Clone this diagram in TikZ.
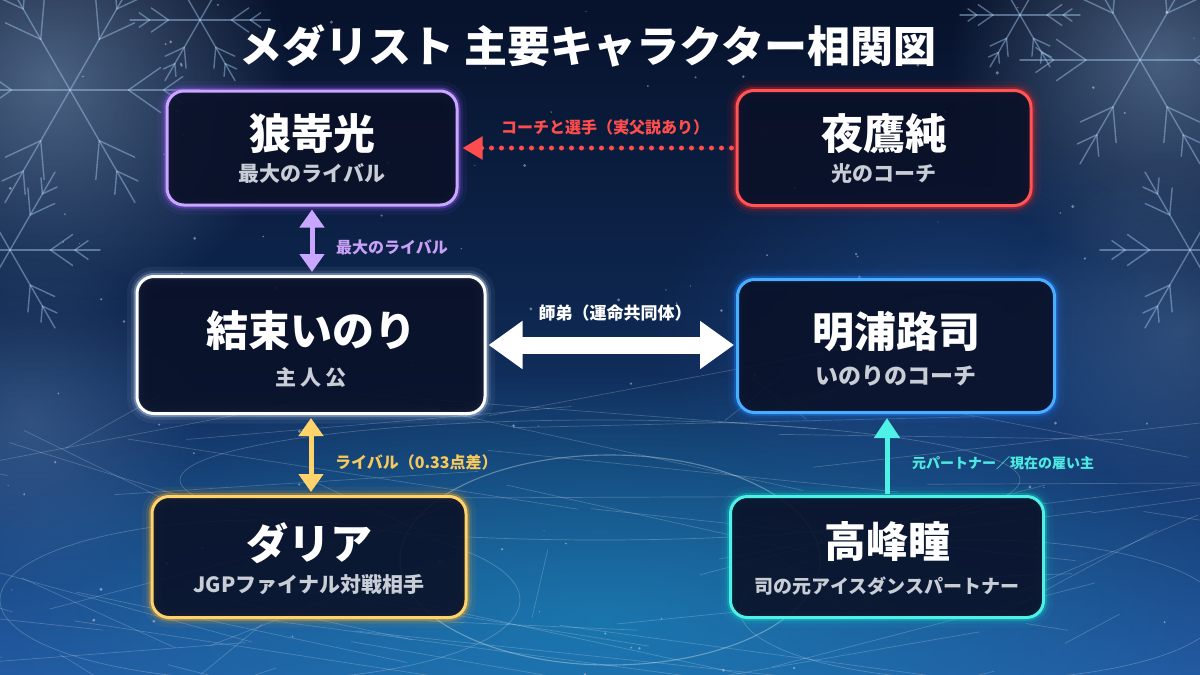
\documentclass[tikz,border=0pt]{standalone}
\usepackage{fontspec}
\setmainfont{Noto Sans CJK JP}
\usetikzlibrary{arrows.meta,fadings,calc}
\definecolor{bgtop}{HTML}{07122B}
\definecolor{bgmid}{HTML}{0E2852}
\definecolor{bgbot}{HTML}{2358A0}
\definecolor{boxfill}{HTML}{0A1128}
\definecolor{subgray}{HTML}{C8CDD6}
\definecolor{pcore}{HTML}{C9A6FF}\definecolor{pglow}{HTML}{9B5CFF}
\definecolor{rcore}{HTML}{FF5555}\definecolor{rglow}{HTML}{FF2222}
\definecolor{wcore}{HTML}{FFFFFF}\definecolor{wglow}{HTML}{CFE4FF}
\definecolor{bcore}{HTML}{4AAEFF}\definecolor{bglow}{HTML}{1E7FFF}
\definecolor{gcore}{HTML}{FFD36B}\definecolor{gglow}{HTML}{FFB020}
\definecolor{tcore}{HTML}{4FF0E6}\definecolor{tglow}{HTML}{10D0C8}
\definecolor{plab}{HTML}{C9A0F8}
\definecolor{rlab}{HTML}{FF4D4D}
\definecolor{glab}{HTML}{F7C85E}
\definecolor{tlab}{HTML}{4DE8E0}
\definecolor{frost}{HTML}{A8CCF2}
\tikzfading[name=softglow, inner color=transparent!0, outer color=transparent!100]
\newcommand\icecrystal[3]{%
  \begin{scope}[shift={(#1,#2)}]
    \foreach \a in {0,60,...,300}{%
      \draw[crystal] (0,0) -- (\a:#3);
      \draw[crystal] (\a:{#3*0.45}) -- ++(\a+35:{#3*0.3});
      \draw[crystal] (\a:{#3*0.45}) -- ++(\a-35:{#3*0.3});
      \draw[crystal] (\a:{#3*0.72}) -- ++(\a+35:{#3*0.18});
      \draw[crystal] (\a:{#3*0.72}) -- ++(\a-35:{#3*0.18});
    }
  \end{scope}}
\tikzset{
  cbox/.style 2 args={draw=#1, line width=3pt, rounded corners=17pt,
    fill=boxfill, fill opacity=0.9, inner sep=0pt,
    preaction={draw=#2, line width=20pt, draw opacity=0.06, fill opacity=0},
    preaction={draw=#2, line width=12pt, draw opacity=0.12, fill opacity=0},
    preaction={draw=#2, line width=7pt, draw opacity=0.35, fill opacity=0}},
  pname/.style={text=white, font=\fontsize{42}{46}\selectfont\bfseries, inner sep=0pt},
  psub/.style={text=subgray, font=\fontsize{21}{24}\selectfont\bfseries, inner sep=0pt},
  rlabel/.style={font=\fontsize{16}{18}\selectfont\bfseries, inner sep=0pt},
  thinarrow/.style={line width=5pt, {Triangle[length=18pt,width=24pt]}-{Triangle[length=18pt,width=24pt]}, shorten <=3pt, shorten >=3pt},
  crystal/.style={draw=frost, line width=1.4pt, draw opacity=0.45, line cap=round},
  scratch/.style={draw=white, line width=0.7pt, draw opacity=0.2},
}
\begin{document}
\begin{tikzpicture}[x=1pt,y=-1pt]
\useasboundingbox (0,0) rectangle (1200,675);
% ---------- background ----------
\begin{scope}
\clip (0,0) rectangle (1200,675);
\shade[top color=bgtop, bottom color=bgbot, middle color=bgmid] (0,0) rectangle (1200,675);
\fill[bgbot!60!cyan, path fading=softglow, opacity=0.5] (600,620) ellipse (650 and 250);
\fill[bgbot, path fading=softglow, opacity=0.5] (950,330) ellipse (300 and 200);
\fill[frost, path fading=softglow, opacity=0.42] (50,80) circle (240);
\fill[frost, path fading=softglow, opacity=0.40] (1160,60) circle (210);
\fill[frost, path fading=softglow, opacity=0.2] (30,420) circle (170);
\fill[frost, path fading=softglow, opacity=0.2] (1180,330) circle (170);
\icecrystal{70}{90}{130}
\icecrystal{10}{250}{90}
\icecrystal{200}{20}{70}
\icecrystal{1140}{60}{120}
\icecrystal{1190}{250}{90}
\icecrystal{1020}{15}{60}
\pgfmathsetseed{7}
\foreach \i in {1,...,75}{%
  \pgfmathsetmacro\xa{rnd*1400-100}
  \pgfmathsetmacro\ya{400+rnd*290}
  \pgfmathsetmacro\xb{\xa+(rnd-0.5)*1000}
  \pgfmathsetmacro\yb{\ya+(rnd-0.5)*180}
  \draw[scratch] (\xa,\ya) -- (\xb,\yb);
}
\draw[scratch, draw opacity=0.32, line width=1.1pt] (610,560) ellipse (210 and 105);
\draw[scratch, draw opacity=0.22] (260,600) ellipse (260 and 80);
\draw[scratch, draw opacity=0.22] (980,610) ellipse (240 and 70);
\draw[scratch, draw opacity=0.22] (600,480) ellipse (420 and 60);
\foreach \i in {1,...,140}{%
  \pgfmathsetmacro\sx{rnd*1200}
  \pgfmathsetmacro\sy{rnd*675}
  \pgfmathsetmacro\sr{0.5+rnd*1.2}
  \fill[white, opacity=0.4] (\sx,\sy) circle (\sr);
}
\end{scope}
% ---------- title ----------
\node[text=white, font=\fontsize{43}{46}\selectfont\bfseries, inner sep=0pt] (title) at (588,46) {メダリスト 主要キャラクター相関図};
% ---------- boxes ----------
\node[cbox={pcore}{pglow}, minimum width=290pt, minimum height=114pt] (hikaru) at (312,148) {};
\node[cbox={rcore}{rglow}, minimum width=294pt, minimum height=115pt] (yoru) at (884,148) {};
\node[cbox={wcore}{wglow}, minimum width=348pt, minimum height=137pt] (inori) at (311,345) {};
\node[cbox={bcore}{bglow}, minimum width=317pt, minimum height=133pt] (tsukasa) at (896,346) {};
\node[cbox={gcore}{gglow}, minimum width=314pt, minimum height=121pt] (dalia) at (309,557) {};
\node[cbox={tcore}{tglow}, minimum width=313pt, minimum height=121pt] (hitomi) at (887,557) {};
% ---------- names ----------
\node[pname] (hikaruN) at (312,134) {狼嵜光};
\node[psub] (hikaruS) at (312,174) {最大のライバル};
\node[pname] (yoruN) at (884,134) {夜鷹純};
\node[psub] (yoruS) at (884,174) {光のコーチ};
\node[pname] (inoriN) at (311,331) {結束いのり};
\node[psub] (inoriS) at (311,378) {主\hspace{4pt}人\hspace{4pt}公};
\node[pname] (tsukasaN) at (896,332) {明浦路司};
\node[psub, font=\fontsize{23}{26}\selectfont\bfseries] (tsukasaS) at (896,376) {いのりのコーチ};
\node[pname] (daliaN) at (309,543) {ダリア};
\node[psub] (daliaS) at (309,585) {JGPファイナル対戦相手};
\node[pname] (hitomiN) at (887,542) {高峰瞳};
\node[psub, font=\fontsize{19}{22}\selectfont\bfseries] (hitomiS) at (887,586) {司の元アイスダンスパートナー};
% ---------- connectors ----------
\draw[thinarrow, draw=pcore, fill=pcore] (hikaru.south) -- (hikaru.south |- inori.north);
\draw[thinarrow, draw=gcore, fill=gcore] (inori.south) -- (inori.south |- dalia.north);
\draw[draw=white, fill=white, line width=17pt,
      {Triangle[length=34pt,width=46pt]}-{Triangle[length=34pt,width=46pt]},
      shorten <=2pt, shorten >=2pt]
      (inori.east) -- (inori.east -| tsukasa.west);
\draw[draw=rlab, fill=rlab, line width=5pt, line cap=round, dash pattern=on 0pt off 10pt,
      -{Triangle[length=20pt,width=22pt]}, shorten <=4pt, shorten >=4pt]
      (yoru.west) -- (yoru.west -| hikaru.east);
\draw[draw=tcore, fill=tcore, line width=5pt, -{Triangle[length=20pt,width=25pt]},
      shorten <=1pt, shorten >=4pt]
      (hitomi.north) -- (hitomi.north |- tsukasa.south);
% ---------- labels ----------
\node[rlabel, text=plab, anchor=west] (labP) at (336,247) {最大のライバル};
\node[rlabel, text=glab, anchor=west] (labG) at (335,462) {ライバル（0.33点差）};
\node[rlabel, text=white, font=\fontsize{17}{19}\selectfont\bfseries] (labW) at (615,313) {師弟（運命共同体）};
\node[rlabel, text=rlab] (labR) at (605,127) {コーチと選手（実父説あり）};
\node[rlabel, text=tlab, font=\fontsize{14}{17}\selectfont\bfseries, anchor=west] (labT) at (912,463) {元パートナー／現在の雇い主};
\end{tikzpicture}
\end{document}
